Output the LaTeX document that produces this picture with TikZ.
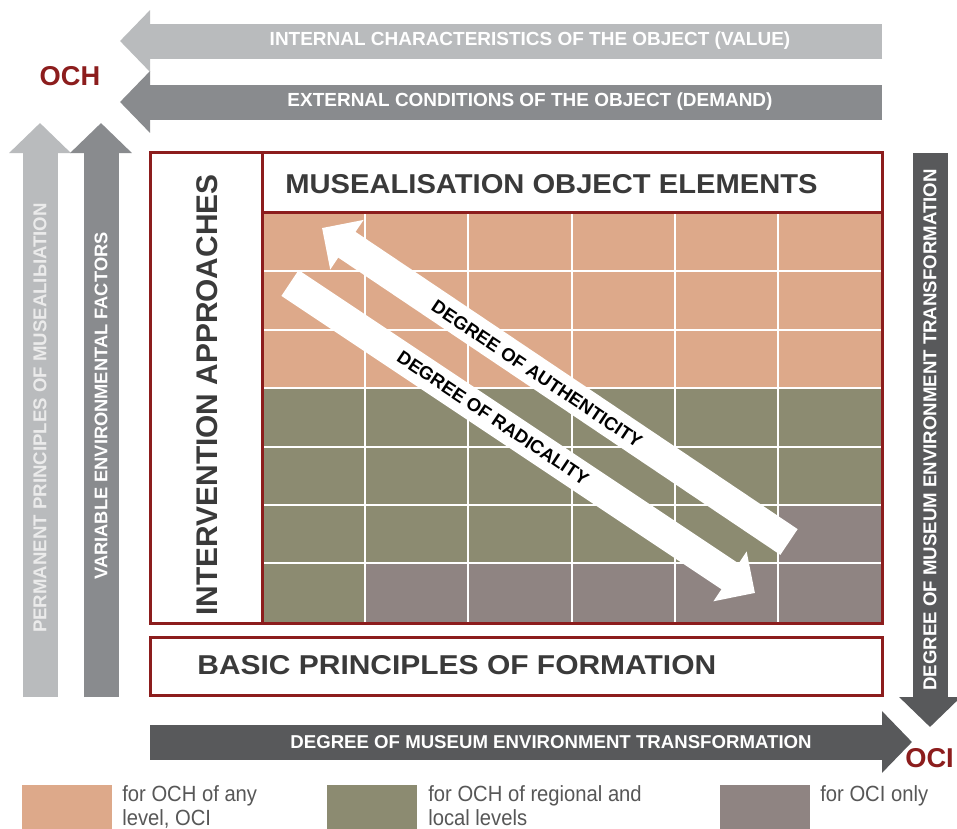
\documentclass[tikz,border=0pt]{standalone}
\usepackage{fontspec}
\setmainfont{Liberation Sans}
\usetikzlibrary{arrows.meta,positioning,calc}

\definecolor{ochred}{HTML}{8C1D1D}
\definecolor{lightband}{HTML}{B9BBBD}
\definecolor{midband}{HTML}{898B8E}
\definecolor{darkband}{HTML}{58595B}
\definecolor{peach}{HTML}{DDA98A}
\definecolor{olive}{HTML}{8C8B71}
\definecolor{mauve}{HTML}{8F8482}
\definecolor{inktext}{HTML}{3A3A3A}

\tikzstyle{band} = [line width=7mm, -{Triangle[length=6mm,width=12mm]}]
\tikzstyle{diag} = [white, line width=6.2mm, -{Triangle[length=6mm,width=11.6mm]}]
\tikzstyle{frame} = [ochred, line width=0.6mm]
\tikzstyle{gridline} = [white, line width=0.45mm]
\tikzstyle{bandtext} = [white, font=\bfseries\fontsize{10.8}{12}\selectfont, inner sep=0pt]
\tikzstyle{boxtext} = [inktext, font=\bfseries\fontsize{15.5}{18}\selectfont, inner sep=0pt]
\tikzstyle{diagtext} = [black, font=\bfseries\fontsize{10.5}{12}\selectfont, inner sep=0pt]
\tikzstyle{legend} = [inktext!85, font=\fontsize{12.5}{13.7}\selectfont, align=left, inner sep=0pt, xscale=0.92]

\begin{document}
\begin{tikzpicture}[x=0.2mm,y=-0.2mm]
            \clip (0,0) rectangle (957,828);
            \fill[white] (0,0) rectangle (957,828);

            %%%%% Object arrows %%%%%
            \coordinate (valR) at (882,41);
            \coordinate (valL) at (120,41);
            \coordinate (demR) at (882,102);
            \coordinate (demL) at (120,102);
            \draw[band, lightband] (valR) -- (valL);
            \draw[band, midband] (demR) -- (demL);
            \node[bandtext] (value) at (530,41) {INTERNAL CHARACTERISTICS OF THE OBJECT (VALUE)};
            \node[bandtext] (demand) at (530,102) {EXTERNAL CONDITIONS OF THE OBJECT (DEMAND)};
            \node[ochred, font=\bfseries\fontsize{15.5}{18}\selectfont, inner sep=0pt] (och) at (70,76) {OCH};

            %%%%% Left arrows %%%%%
            \coordinate (permB) at (40,697);
            \coordinate (permT) at (40,123);
            \coordinate (varB) at (101,697);
            \coordinate (varT) at (101,123);
            \draw[band, lightband] (permB) -- (permT);
            \draw[band, midband] (varB) -- (varT);
            \node[bandtext, rotate=90, text=white!92!black, font=\bfseries\fontsize{10.6}{12}\selectfont] (perm) at (40,418) {PERMANENT PRINCIPLES OF MUSEALIЫATION};
            \node[bandtext, rotate=90, font=\bfseries\fontsize{10.4}{12}\selectfont] (var) at (101,406) {VARIABLE ENVIRONMENTAL FACTORS};

            %%%%% Grid %%%%%
            \fill[peach] (262,212) rectangle (882,388);
            \fill[olive] (262,388) rectangle (882,623);
            \fill[mauve] (778,505) rectangle (882,623);
            \fill[mauve] (365,563) rectangle (882,623);
            \foreach \x in {365,468,572,675,778}
                \draw[gridline] (\x,212) -- (\x,623);
            \foreach \y in {271,330,388,447,505,563}
                \draw[gridline] (262,\y) -- (882,\y);

            %%%%% Diagonal arrows %%%%%
            \coordinate (authTail) at (789,542);
            \coordinate (authTip) at (322,228);
            \coordinate (radTail) at (290,283);
            \coordinate (radTip) at (755,593);
            \draw[diag] (authTail) -- (authTip);
            \draw[diag] (radTail) -- (radTip);
            \node[diagtext, rotate=-33.9] (auth) at (537,374) {DEGREE OF AUTHENTICITY};
            \node[diagtext, rotate=-33.7] (rad) at (493,418) {DEGREE OF RADICALITY};

            %%%%% Frame %%%%%
            \fill[white] (150,152) rectangle (262,623);
            \fill[white] (262,152) rectangle (882,212);
            \draw[frame] (150,152) rectangle (882,623);
            \draw[frame] (262,152) -- (262,623);
            \draw[frame] (262,212) -- (882,212);
            \node[boxtext, anchor=west, xscale=1.07] (elements) at (285,184) {MUSEALISATION OBJECT ELEMENTS};
            \node[boxtext, rotate=90, font=\bfseries\fontsize{17}{18}\selectfont] (approach) at (207,395) {INTERVENTION APPROACHES};

            \draw[frame, fill=white] (150,637) rectangle (882,695);
            \node[boxtext, anchor=west, xscale=1.1] (basic) at (197,665) {BASIC PRINCIPLES OF FORMATION};

            %%%%% Transformation arrows %%%%%
            \coordinate (trT) at (930,153);
            \coordinate (trB) at (930,727);
            \coordinate (trL) at (150,742);
            \coordinate (trR) at (912,742);
            \draw[band, darkband] (trT) -- (trB);
            \draw[band, darkband] (trL) -- (trR);
            \node[bandtext, rotate=90, font=\bfseries\fontsize{10.6}{12}\selectfont] (trvert) at (930,430) {DEGREE OF MUSEUM ENVIRONMENT TRANSFORMATION};
            \node[bandtext, font=\bfseries\fontsize{10.6}{12}\selectfont] (trhor) at (551,742) {DEGREE OF MUSEUM ENVIRONMENT TRANSFORMATION};
            \node[ochred, font=\bfseries\fontsize{15.5}{18}\selectfont, inner sep=0pt, anchor=west] (oci) at (905,758) {OCI};

            %%%%% Legend %%%%%
            \fill[peach] (22,785) rectangle (112,830);
            \fill[olive] (327,785) rectangle (417,830);
            \fill[mauve] (720,785) rectangle (810,830);
            \node[legend, anchor=north west] (legA) at (122,785) {for OCH of any\\level, OCI};
            \node[legend, anchor=north west] (legB) at (428,785) {for OCH of regional and\\local levels};
            \node[legend, anchor=north west] (legC) at (820,785) {for OCI only};
\end{tikzpicture}
\end{document}
